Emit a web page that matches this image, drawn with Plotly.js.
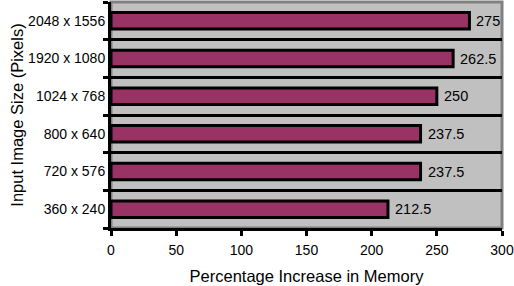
<!DOCTYPE html>
<html>
<head>
<meta charset="utf-8">
<script src="https://cdn.plot.ly/plotly-3.0.1.min.js"></script>
<style>html,body{margin:0;padding:0;background:#fff;}#chart{width:514px;height:286px;}</style>
</head>
<body>
<div id="chart"></div>
<script>
const categories = ['360 x 240', '720 x 576', '800 x 640', '1024 x 768', '1920 x 1080', '2048 x 1556'];
const values = [212.5, 237.5, 237.5, 250, 262.5, 275];
const labels = ['212.5', '237.5', '237.5', '250', '262.5', '275'];
const xTicks = [0, 50, 100, 150, 200, 250, 300];

const font = 'Liberation Sans, Arial, Helvetica, sans-serif';

const trace = {
  type: 'bar',
  orientation: 'h',
  y: categories,
  x: values,
  cliponaxis: false,
  marker: {color: '#993366', line: {color: '#000', width: 3}},
  width: 0.44,
  hoverinfo: 'none'
};

const annotations = categories.map((c, i) => ({
  x: values[i], y: c, xref: 'x', yref: 'y',
  text: labels[i], showarrow: false,
  xanchor: 'left', yanchor: 'middle', xshift: 5,
  font: {family: font, size: 14.5, color: '#000'}
}));

const layout = {
  width: 514, height: 286,
  margin: {l: 111, r: 12, t: 2, b: 58},
  paper_bgcolor: '#fff',
  plot_bgcolor: '#C0C0C0',
  showlegend: false,
  font: {family: font, size: 14, color: '#000'},
  annotations: annotations,
  xaxis: {
    range: [0, 300],
    tickvals: xTicks,
    ticktext: xTicks.map(String),
    showgrid: false,
    zeroline: false,
    showline: true, linecolor: '#000', linewidth: 3,
    ticks: 'outside', ticklen: 5, tickwidth: 3, tickcolor: '#000',
    ticklabelstandoff: 2,
    tickfont: {family: font, size: 14, color: '#000'},
    title: {text: 'Percentage Increase in Memory', font: {family: font, size: 16.5, color: '#000'}, standoff: 14},
    automargin: false
  },
  yaxis: {
    type: 'category',
    categoryorder: 'array', categoryarray: categories,
    tickson: 'boundaries',
    showgrid: true, gridcolor: '#000', gridwidth: 3,
    showline: true, linecolor: '#000', linewidth: 3,
    ticks: 'outside', ticklen: 5, tickwidth: 3, tickcolor: '#000',
    tickfont: {family: font, size: 14, color: '#000'},
    title: {text: 'Input Image Size (Pixels)', font: {family: font, size: 16.5, color: '#000'}, standoff: 1},
    automargin: false
  },
  shapes: [{
    type: 'rect', xref: 'paper', yref: 'paper', x0: 0, x1: 1, y0: 0, y1: 1,
    line: {color: '#808080', width: 3}, layer: 'below'
  }]
};

Plotly.newPlot('chart', [trace], layout, {staticPlot: true, displayModeBar: false});
</script>
</body>
</html>
